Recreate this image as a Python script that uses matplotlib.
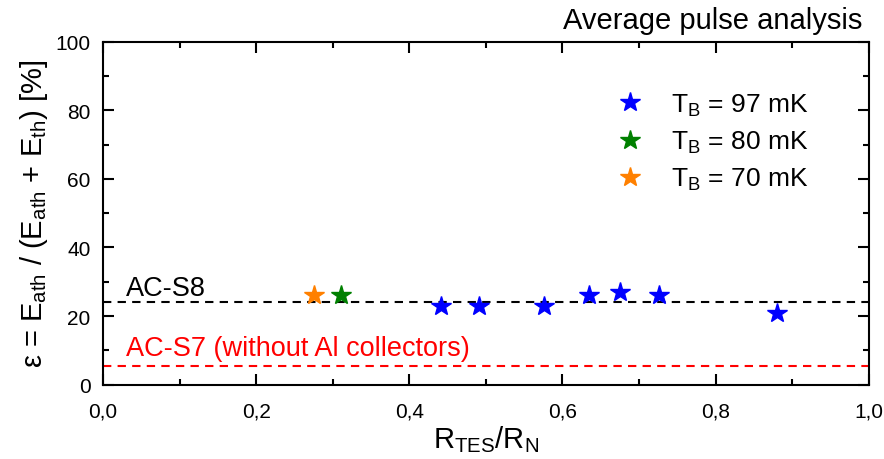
import matplotlib
matplotlib.use('Agg')
import matplotlib.pyplot as plt
from matplotlib.ticker import MultipleLocator, FuncFormatter

plt.rcParams['font.family'] = ['Liberation Sans', 'DejaVu Sans']
plt.rcParams['mathtext.fontset'] = 'custom'
plt.rcParams['mathtext.rm'] = 'Liberation Sans'
plt.rcParams['mathtext.it'] = 'Liberation Sans:italic'

# ---- data ----
r_97 = [0.441, 0.491, 0.576, 0.635, 0.675, 0.726, 0.880]
eps_97 = [23, 23, 23, 26, 27, 26, 21]
r_80 = [0.311]
eps_80 = [26]
r_70 = [0.276]
eps_70 = [26]

ac_s8_level = 24
ac_s7_level = 5.5

fig = plt.figure(figsize=(8.84, 4.60), dpi=100)
ax = fig.add_axes([0.1165, 0.1617, 0.8662, 0.7457])

ax.axhline(ac_s8_level, color='black', ls=(0, (4, 3)), lw=1.5, zorder=1)
ax.axhline(ac_s7_level, color='red', ls=(0, (4, 3)), lw=1.5, zorder=1)

ax.plot(r_97, eps_97, '*', color='blue', ms=15, mec='blue', label=r'T$_\mathrm{B}$ = 97 mK', zorder=3)
ax.plot(r_80, eps_80, '*', color='green', ms=15, mec='green', label=r'T$_\mathrm{B}$ = 80 mK', zorder=3)
ax.plot(r_70, eps_70, '*', color='#ff8000', ms=15, mec='#ff8000', label=r'T$_\mathrm{B}$ = 70 mK', zorder=3)

ax.text(0.03, ac_s8_level + 2.2, 'AC-S8', color='black', fontsize=19.5)
ax.text(0.03, ac_s7_level + 3.2, 'AC-S7 (without Al collectors)', color='red', fontsize=19.5)

ax.set_xlim(0, 1.0)
ax.set_ylim(0, 100)
ax.xaxis.set_major_locator(MultipleLocator(0.2))
ax.xaxis.set_minor_locator(MultipleLocator(0.1))
ax.yaxis.set_major_locator(MultipleLocator(20))
ax.yaxis.set_minor_locator(MultipleLocator(10))
ax.xaxis.set_major_formatter(FuncFormatter(lambda v, p: f'{v:.1f}'.replace('.', ',')))
ax.tick_params(which='both', direction='in', top=True, right=True, width=1.5, labelsize=15)
ax.tick_params(which='major', length=8)
ax.tick_params(which='minor', length=4)
ax.tick_params(axis='x', which='major', pad=12)
ax.tick_params(axis='y', which='major', pad=9)
for s in ax.spines.values():
    s.set_linewidth(1.5)

ax.set_xlabel(r'R$_\mathrm{TES}$/R$_\mathrm{N}$', fontsize=21, labelpad=2)
ax.set_ylabel(r'ε = E$_\mathrm{ath}$ / (E$_\mathrm{ath}$ + E$_\mathrm{th}$) [%]', fontsize=21, labelpad=4)

ax.legend(loc='upper left', bbox_to_anchor=(0.64, 0.885), frameon=False, fontsize=19,
          handletextpad=0.55, labelspacing=0.42, borderaxespad=0)

fig.text(0.975, 0.955, 'Average pulse analysis', ha='right', va='center', fontsize=21)

fig.savefig('out.png', dpi=100)
